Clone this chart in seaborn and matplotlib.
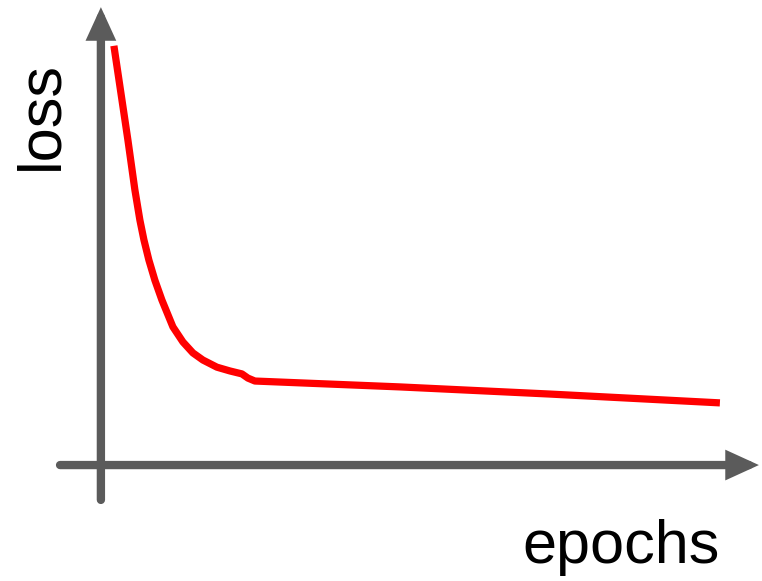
import matplotlib
matplotlib.use('Agg')
import matplotlib.pyplot as plt
import seaborn as sns
import pandas as pd

# curve (arbitrary units: epochs 0..100, loss 0..1)
epochs = [2.10, 3.23, 4.36, 5.49, 6.30, 6.95, 7.75, 8.72, 9.85, 11.63,
          13.25, 14.86, 16.48, 18.74, 20.84, 22.78, 23.75, 24.88, 48.30, 72.54, 100.0]
loss = [0.998, 0.886, 0.774, 0.655, 0.583, 0.536, 0.488, 0.440, 0.393, 0.329,
        0.293, 0.267, 0.250, 0.233, 0.224, 0.217, 0.207, 0.200, 0.186, 0.169, 0.148]

x_label = 'epochs'
y_label = 'loss'

sns.set_style('white')
plt.rcParams['font.family'] = ['Liberation Sans', 'DejaVu Sans']

fig = plt.figure(figsize=(7.62, 5.81), dpi=100)
ax = fig.add_axes([0, 0, 1, 1])
ax.set_xlim(-16.3, 106.8)
ax.set_ylim(-0.276, 1.107)
ax.axis('off')

grey = '#5b5b5b'
arrow = dict(arrowstyle='-|>,head_length=0.7,head_width=0.32', color=grey,
             lw=6, shrinkA=0, shrinkB=0, mutation_scale=20, joinstyle='miter')
ax.annotate('', xy=(0, 1.09), xytext=(0, -0.083), arrowprops=arrow)
ax.annotate('', xy=(106.3, 0), xytext=(-6.6, 0), arrowprops=arrow)

df = pd.DataFrame({'epochs': epochs, 'loss': loss})
sns.lineplot(data=df, x='epochs', y='loss', color='#ff0000', lw=5.2, ax=ax,
             solid_capstyle='butt', solid_joinstyle='round')

ax.text(100.0, -0.233, x_label, fontsize=44, color='black',
        ha='right', va='baseline')
ax.text(-7.1, 0.702, y_label, fontsize=44, color='black', rotation=90,
        rotation_mode='anchor', ha='left', va='baseline')

fig.savefig('out.png', dpi=100)
